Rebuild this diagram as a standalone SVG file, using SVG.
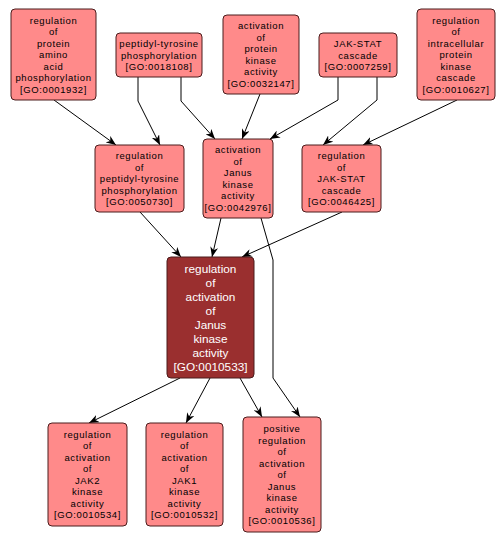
<svg xmlns="http://www.w3.org/2000/svg" width="504" height="544" viewBox="0 0 504 544">
<style>
.n rect{fill:#ff8a8a;stroke:#4a1c1c;stroke-width:1}
.n text{font-family:"Liberation Sans",Arial,sans-serif;font-size:9.5px;letter-spacing:0.6px;fill:#000;text-anchor:middle}
.c rect{fill:#9a2f2f;stroke:#4a1c1c;stroke-width:1}
.c text{font-family:"Liberation Sans",Arial,sans-serif;font-size:11.8px;fill:#fff;text-anchor:middle}
.e path{fill:none;stroke:#000;stroke-width:1;marker-end:url(#ah)}
</style>
<defs>
<marker id="ah" viewBox="0 0 10 8" refX="10" refY="4" markerWidth="10" markerHeight="8" markerUnits="userSpaceOnUse" orient="auto">
<path d="M0,0 L10,4 L0,8 L3,4 z" fill="#000"/>
</marker>
</defs>
<rect width="504" height="544" fill="#fff"/>
<g id="edges" class="e">
<path d="M54,100 L116,145"/>
<path d="M138,77 L138,101 L160,145"/>
<path d="M181,77 L181,101 L215,139"/>
<path d="M260,94 L242,139"/>
<path d="M338,77 L338,100 L270,139"/>
<path d="M377,77 L377,100 L323,145"/>
<path d="M457,100 L363,145"/>
<path d="M140,212 L181,257"/>
<path d="M221,218 L212,257"/>
<path d="M342,212 L242,257"/>
<path d="M261,218 L273,260 L273,378 L300,417"/>
<path d="M180,378 L89,423"/>
<path d="M210,378 L186,423"/>
<path d="M240,378 L262,417"/>
</g>
<g id="GO0001932" class="n"><rect x="11" y="9" width="85" height="91" rx="4"/>
<text x="53.5" y="23.5">regulation</text><text x="53.5" y="35">of</text><text x="53.5" y="46.5">protein</text><text x="53.5" y="58">amino</text><text x="53.5" y="69.5">acid</text><text x="53.5" y="81">phosphorylation</text><text x="53.5" y="92.5">[GO:0001932]</text></g>
<g id="GO0018108" class="n"><rect x="116" y="33" width="86" height="44" rx="4"/>
<text x="159" y="47">peptidyl-tyrosine</text><text x="159" y="58.5">phosphorylation</text><text x="159" y="70">[GO:0018108]</text></g>
<g id="GO0032147" class="n"><rect x="223" y="15" width="76" height="79" rx="4"/>
<text x="261" y="29.25">activation</text><text x="261" y="40.75">of</text><text x="261" y="52.25">protein</text><text x="261" y="63.75">kinase</text><text x="261" y="75.25">activity</text><text x="261" y="86.75">[GO:0032147]</text></g>
<g id="GO0007259" class="n"><rect x="319" y="33" width="78" height="44" rx="4"/>
<text x="358" y="47">JAK-STAT</text><text x="358" y="58.5">cascade</text><text x="358" y="70">[GO:0007259]</text></g>
<g id="GO0010627" class="n"><rect x="417" y="9" width="78" height="91" rx="4"/>
<text x="456" y="23.5">regulation</text><text x="456" y="35">of</text><text x="456" y="46.5">intracellular</text><text x="456" y="58">protein</text><text x="456" y="69.5">kinase</text><text x="456" y="81">cascade</text><text x="456" y="92.5">[GO:0010627]</text></g>
<g id="GO0050730" class="n"><rect x="95" y="145" width="89" height="67" rx="4"/>
<text x="139.5" y="159">regulation</text><text x="139.5" y="170.5">of</text><text x="139.5" y="182">peptidyl-tyrosine</text><text x="139.5" y="193.5">phosphorylation</text><text x="139.5" y="205">[GO:0050730]</text></g>
<g id="GO0042976" class="n"><rect x="203" y="139" width="70" height="79" rx="4"/>
<text x="238" y="153.25">activation</text><text x="238" y="164.75">of</text><text x="238" y="176.25">Janus</text><text x="238" y="187.75">kinase</text><text x="238" y="199.25">activity</text><text x="238" y="210.75">[GO:0042976]</text></g>
<g id="GO0046425" class="n"><rect x="302" y="145" width="79" height="67" rx="4"/>
<text x="341.5" y="159">regulation</text><text x="341.5" y="170.5">of</text><text x="341.5" y="182">JAK-STAT</text><text x="341.5" y="193.5">cascade</text><text x="341.5" y="205">[GO:0046425]</text></g>
<g id="GO0010533" class="c"><rect x="167" y="257" width="87" height="121" rx="4"/>
<text x="210.5" y="272.5">regulation</text><text x="210.5" y="286.5">of</text><text x="210.5" y="300.5">activation</text><text x="210.5" y="314.5">of</text><text x="210.5" y="328.5">Janus</text><text x="210.5" y="342.5">kinase</text><text x="210.5" y="356.5">activity</text><text x="210.5" y="370.5">[GO:0010533]</text></g>
<g id="GO0010534" class="n"><rect x="48" y="423" width="79" height="103" rx="4"/>
<text x="87.5" y="437.75">regulation</text><text x="87.5" y="449.25">of</text><text x="87.5" y="460.75">activation</text><text x="87.5" y="472.25">of</text><text x="87.5" y="483.75">JAK2</text><text x="87.5" y="495.25">kinase</text><text x="87.5" y="506.75">activity</text><text x="87.5" y="518.25">[GO:0010534]</text></g>
<g id="GO0010532" class="n"><rect x="146" y="423" width="77" height="103" rx="4"/>
<text x="184.5" y="437.75">regulation</text><text x="184.5" y="449.25">of</text><text x="184.5" y="460.75">activation</text><text x="184.5" y="472.25">of</text><text x="184.5" y="483.75">JAK1</text><text x="184.5" y="495.25">kinase</text><text x="184.5" y="506.75">activity</text><text x="184.5" y="518.25">[GO:0010532]</text></g>
<g id="GO0010536" class="n"><rect x="243" y="417" width="78" height="115" rx="4"/>
<text x="282" y="432">positive</text><text x="282" y="443.5">regulation</text><text x="282" y="455">of</text><text x="282" y="466.5">activation</text><text x="282" y="478">of</text><text x="282" y="489.5">Janus</text><text x="282" y="501">kinase</text><text x="282" y="512.5">activity</text><text x="282" y="524">[GO:0010536]</text></g>
</svg>
